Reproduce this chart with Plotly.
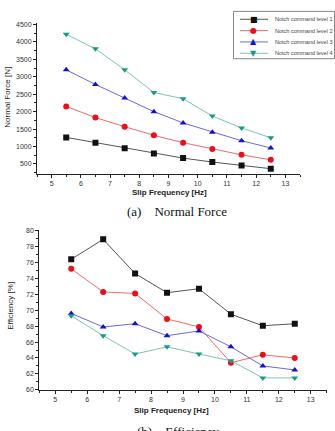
import plotly.graph_objects as go

W, H = 335, 431

slip_freq = [5.5, 6.5, 7.5, 8.5, 9.5, 10.5, 11.5, 12.5]
series_names = ["Notch command level 1", "Notch command level 2",
                "Notch command level 3", "Notch command level 4"]

force_l1 = [1262, 1110, 950, 800, 667, 554, 458, 364]
force_l2 = [2150, 1830, 1570, 1320, 1110, 931, 761, 619]
force_l3 = [3200, 2780, 2390, 2000, 1676, 1412, 1166, 959]
force_l4 = [4220, 3800, 3200, 2550, 2370, 1874, 1534, 1250]

eff_l1 = [76.4, 78.9, 74.6, 72.2, 72.7, 69.5, 68.05, 68.3]
eff_l2 = [75.2, 72.3, 72.1, 68.9, 67.9, 63.4, 64.4, 64.0]
eff_l3 = [69.6, 67.9, 68.3, 66.8, 67.4, 65.4, 63.0, 62.5]
eff_l4 = [69.3, 66.8, 64.5, 65.4, 64.5, 63.65, 61.5, 61.5]

marker_colors = ["#111111", "#e8101a", "#1010d8", "#1a9a84"]
line_colors = ["#555555", "#f06a6a", "#6a6ae0", "#7cc4b6"]
symbols = ["square", "circle", "triangle-up", "triangle-down"]
glyphs = ["■", "●", "▲", "▼"]


def px_x(p):
    return p / W


def px_y(p):
    return 1 - p / H


fig = go.Figure()

force = [force_l1, force_l2, force_l3, force_l4]
eff = [eff_l1, eff_l2, eff_l3, eff_l4]

for i in range(4):
    fig.add_trace(go.Scatter(
        x=slip_freq, y=force[i], mode="lines+markers", name=series_names[i],
        line=dict(color=line_colors[i], width=1),
        marker=dict(symbol=symbols[i], color=marker_colors[i], size=6),
        xaxis="x", yaxis="y", showlegend=False))
for i in range(4):
    fig.add_trace(go.Scatter(
        x=slip_freq, y=eff[i], mode="lines+markers", name=series_names[i],
        line=dict(color=line_colors[i], width=1),
        marker=dict(symbol=symbols[i], color=marker_colors[i], size=6),
        xaxis="x2", yaxis="y2", showlegend=False))

tickfont = dict(family="Liberation Sans, Arial, sans-serif", size=7, color="#333333")
axis_common = dict(
    showline=True, linecolor="#222222", linewidth=1, mirror=False,
    ticks="outside", ticklen=3, tickwidth=1, tickcolor="#222222",
    showgrid=False, zeroline=False, tickfont=tickfont,
)

fig.update_layout(
    width=W, height=H, margin=dict(l=0, r=0, t=0, b=0),
    paper_bgcolor="white", plot_bgcolor="white",
    xaxis=dict(domain=[px_x(37), px_x(300)], range=[4.5, 13.5], anchor="y",
               tickmode="linear", tick0=5, dtick=1,
               minor=dict(ticks="outside", ticklen=2, dtick=0.5, tick0=4.5, tickcolor="#222222"),
               **axis_common),
    yaxis=dict(domain=[px_y(173.3), px_y(20)], range=[215, 4550], anchor="x",
               tickmode="linear", tick0=500, dtick=500,
               minor=dict(ticks="outside", ticklen=2, dtick=250, tick0=250, tickcolor="#222222"),
               **axis_common),
    xaxis2=dict(domain=[px_x(39.3), px_x(326.7)], range=[4.5, 13.5], anchor="y2",
                tickmode="linear", tick0=5, dtick=1,
                minor=dict(ticks="outside", ticklen=2, dtick=0.5, tick0=4.5, tickcolor="#222222"),
                **axis_common),
    yaxis2=dict(domain=[px_y(392.3), px_y(230)], range=[60, 80.1], anchor="x2",
                tickmode="linear", tick0=60, dtick=2,
                minor=dict(ticks="outside", ticklen=2, dtick=1, tick0=60, tickcolor="#222222"),
                **axis_common),
)

ann = []
label_font = dict(family="Liberation Sans, Arial, sans-serif", size=8, color="#222222")
ann.append(dict(text="<b>Slip Frequency [Hz]</b>", x=px_x(169), y=px_y(192),
                xref="paper", yref="paper", showarrow=False, font=label_font,
                xanchor="center", yanchor="middle"))
ann.append(dict(text="<b>Slip Frequency [Hz]</b>", x=px_x(171), y=px_y(413),
                xref="paper", yref="paper", showarrow=False, font=label_font,
                xanchor="center", yanchor="middle"))
ann.append(dict(text="Normal Force [N]", x=px_x(8), y=px_y(96),
                xref="paper", yref="paper", showarrow=False, font=label_font,
                textangle=-90, xanchor="center", yanchor="middle"))
ann.append(dict(text="Efficiency [%]", x=px_x(11), y=px_y(307),
                xref="paper", yref="paper", showarrow=False, font=label_font,
                textangle=-90, xanchor="center", yanchor="middle"))

cap_font = dict(family="Liberation Serif, Times New Roman, serif", size=13, color="#111111")
ann.append(dict(text="(a)    Normal Force", x=px_x(125), y=px_y(211),
                xref="paper", yref="paper", showarrow=False, font=cap_font,
                xanchor="left", yanchor="middle"))
ann.append(dict(text="(b)    Efficiency", x=px_x(135), y=px_y(425),
                xref="paper", yref="paper", showarrow=False, font=cap_font,
                xanchor="left", yanchor="top"))

# manual legend
shapes = [dict(type="rect", xref="paper", yref="paper",
               x0=px_x(233.5), x1=px_x(334.5), y0=px_y(56.5), y1=px_y(8.5),
               line=dict(color="#888888", width=1), fillcolor="white")]
row_y = [16.5, 28, 39.5, 51]
leg_font = dict(family="Liberation Sans, Arial, sans-serif", size=5.5, color="#444444")
for i in range(4):
    shapes.append(dict(type="line", xref="paper", yref="paper",
                       x0=px_x(240), x1=px_x(268), y0=px_y(row_y[i]), y1=px_y(row_y[i]),
                       line=dict(color=line_colors[i], width=1)))
    ann.append(dict(text=glyphs[i], x=px_x(254), y=px_y(row_y[i]),
                    xref="paper", yref="paper", showarrow=False,
                    font=dict(family="DejaVu Sans", size=8, color=marker_colors[i]),
                    xanchor="center", yanchor="middle"))
    ann.append(dict(text=series_names[i], x=px_x(273), y=px_y(row_y[i]),
                    xref="paper", yref="paper", showarrow=False, font=leg_font,
                    xanchor="left", yanchor="middle"))

fig.update_layout(annotations=ann, shapes=shapes)

fig.write_html("out.html")
